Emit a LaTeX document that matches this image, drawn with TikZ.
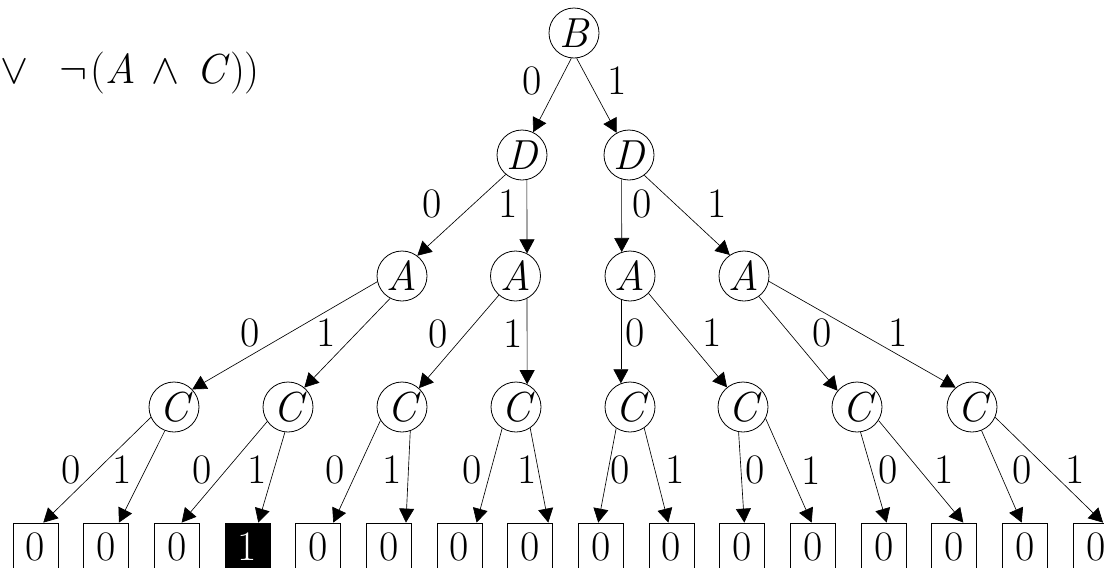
\RequirePackage{fix-cm}
\documentclass[tikz,border=0pt]{standalone}
\usetikzlibrary{arrows.meta}
\begin{document}
\begin{tikzpicture}[x=1pt,y=-1pt,
  every node/.style={font=\fontsize{42}{42}\selectfont},
  var/.style={circle,draw,line width=0.8pt,minimum size=50pt,inner sep=0pt,font=\fontsize{42}{42}\selectfont\itshape},
  leaf/.style={rectangle,draw,line width=0.8pt,minimum width=45pt,minimum height=47pt,inner sep=0pt},
  one/.style={leaf,fill=black,text=white},
  edge/.style={line width=0.65pt,-{Triangle[length=14pt,width=15pt]}},
  lab/.style={inner sep=0pt}
]
\useasboundingbox (0,0) rectangle (1104,568);
\clip (0,0) rectangle (1104,568);
% formula
\node[lab,anchor=base west] (f) at (0,83) {$\vee$\hspace{31pt}$\neg$\hspace{3pt}(\textit{A}\hspace{16pt}$\wedge$\hspace{17pt}\textit{C}))};
% variable nodes
\node[var] (b) at (574,33) {B};
\node[var] (d1) at (522,155) {D};
\node[var] (d2) at (629,155) {D};
\node[var] (a1) at (402,276) {A};
\node[var] (a2) at (515.5,276) {A};
\node[var] (a3) at (630,276) {A};
\node[var] (a4) at (744,276) {A};
\node[var] (c1) at (174,407) {C};
\node[var] (c2) at (288,407) {C};
\node[var] (c3) at (402,407) {C};
\node[var] (c4) at (516,407) {C};
\node[var] (c5) at (630,407) {C};
\node[var] (c6) at (743,407) {C};
\node[var] (c7) at (857,407) {C};
\node[var] (c8) at (972,407) {C};
% leaves
\foreach \i in {0,1,2,4,5,6,7,8,9,10,11,12,13,14,15}{
  \node[leaf] (l\i) at ({35.6+70.67*\i},546.5) {\raisebox{-2pt}{0}};
}
\node[one] (l3) at ({35.6+70.67*3},546.5) {\raisebox{-2pt}{1}};
% edges B
\draw[edge] (b.264) -- (d1.64);
\draw[edge] (b.276) -- (d2.119);
\node[lab] (lb0) at (531.7,80.5) {0};
\node[lab] (lb1) at (617.5,80.5) {1};
% edges D
\draw[edge] (d1.230) -- (a1.53);
\draw[edge] (d1.281) -- (a2.63);
\draw[edge] (d2.253) -- (a3.109);
\draw[edge] (d2.307) -- (a4.124);
\node[lab] (ld10) at (431.7,204) {0};
\node[lab] (ld11) at (508,204) {1};
\node[lab] (ld20) at (641.7,204) {0};
\node[lab] (ld21) at (716.7,204) {1};
% edges A
\draw[edge] (a1.193) -- (c1.44);
\draw[edge] (a1.242) -- (c2.50);
\draw[edge] (a2.229) -- (c3.48);
\draw[edge] (a2.297) -- (c4.64);
\draw[edge] (a3.249) -- (c5.111);
\draw[edge] (a3.317) -- (c6.129);
\draw[edge] (a4.306) -- (c7.140);
\draw[edge] (a4.348) -- (c8.130);
\node[lab] (la10) at (250,333) {0};
\node[lab] (la11) at (326,333) {1};
\node[lab] (la20) at (438,334) {0};
\node[lab] (la21) at (513,334) {1};
\node[lab] (la30) at (635,333) {0};
\node[lab] (la31) at (711.7,333) {1};
\node[lab] (la40) at (822.5,333) {0};
\node[lab] (la41) at (898,333) {1};
% edges C
\draw[edge] (c1.204) -- ([xshift=7.7pt]l0.north);
\draw[edge] (c1.249) -- ([xshift=12.7pt]l1.north);
\draw[edge] (c2.215) -- ([xshift=4.7pt]l2.north);
\draw[edge] (c2.263) -- ([xshift=10.7pt]l3.north);
\draw[edge] (c3.212) -- ([xshift=15pt]l4.north);
\draw[edge] (c3.289) -- ([xshift=17pt]l5.north);
\draw[edge] (c4.237) -- ([xshift=17pt]l6.north);
\draw[edge] (c4.304) -- ([xshift=18pt]l7.north);
\draw[edge] (c5.237) -- ([xshift=-2.7pt]l8.north);
\draw[edge] (c5.304) -- ([xshift=-3.3pt]l9.north);
\draw[edge] (c6.260) -- ([xshift=2pt]l10.north);
\draw[edge] (c6.333) -- ([xshift=-1.3pt]l11.north);
\draw[edge] (c7.278) -- ([xshift=3pt]l12.north);
\draw[edge] (c7.328) -- ([xshift=9pt]l13.north);
\draw[edge] (c8.292) -- ([xshift=-3.3pt]l14.north);
\draw[edge] (c8.336) -- ([xshift=7.4pt]l15.north);
\node[lab] (lc10) at (71.5,470) {0};
\node[lab] (lc11) at (121.7,470) {1};
\node[lab] (lc20) at (201.7,470) {0};
\node[lab] (lc21) at (256.7,470) {1};
\node[lab] (lc30) at (335,470) {0};
\node[lab] (lc31) at (391.7,470) {1};
\node[lab] (lc40) at (471.7,470) {0};
\node[lab] (lc41) at (526.7,470) {1};
\node[lab] (lc50) at (620,470) {0};
\node[lab] (lc51) at (675,470) {1};
\node[lab] (lc60) at (755,470) {0};
\node[lab] (lc61) at (810.8,471) {1};
\node[lab] (lc70) at (888.3,470) {0};
\node[lab] (lc71) at (944,470) {1};
\node[lab] (lc80) at (1022.5,470) {0};
\node[lab] (lc81) at (1075,470) {1};
\end{tikzpicture}
\end{document}
